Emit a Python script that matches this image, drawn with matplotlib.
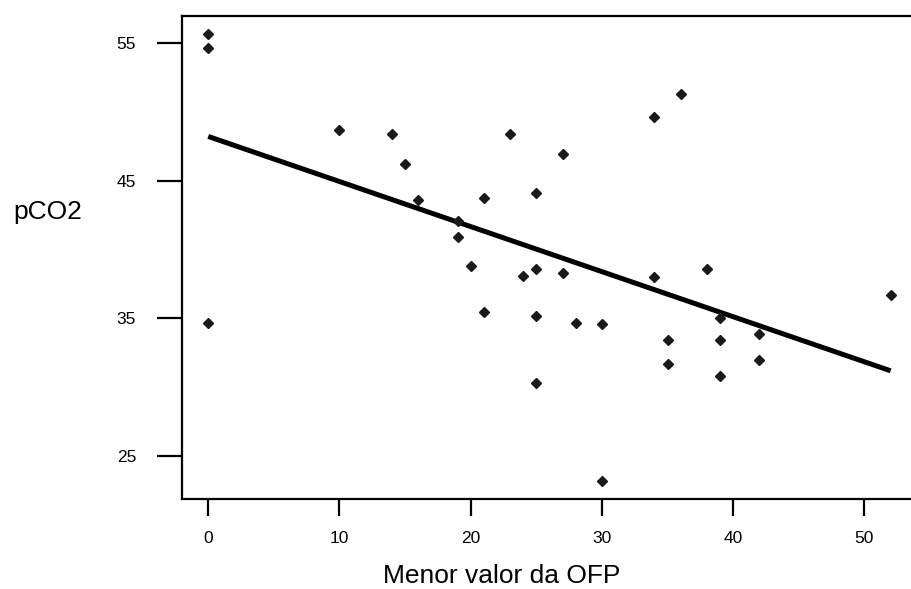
import numpy as np
import matplotlib
matplotlib.use("Agg")
import matplotlib.pyplot as plt

plt.rcParams['font.family'] = ['Liberation Sans', 'DejaVu Sans']

# menor valor da OFP (x) e pCO2 (y)
ofp = [0, 0, 0, 10, 14, 15, 16, 19, 19, 20, 21, 21, 23, 24,
       25, 25, 25, 25, 27, 27, 28, 30, 30, 34, 34, 35, 35, 36,
       38, 39, 39, 39, 42, 42, 52]
pco2 = [55.6, 54.6, 34.7, 48.7, 48.4, 46.2, 43.6, 42.1, 40.9, 38.8, 43.7, 35.5, 48.4, 38.1,
        44.1, 38.6, 35.2, 30.3, 46.9, 38.3, 34.7, 34.6, 23.2, 49.6, 38.0, 33.4, 31.7, 51.3,
        38.6, 35.0, 33.4, 30.8, 33.9, 32.0, 36.7]

# reta ajustada
fit_x = [0, 52]
fit_y = [48.2, 31.2]

xticks = [0, 10, 20, 30, 40, 50]
yticks = [25, 35, 45, 55]

fig = plt.figure(figsize=(9.11, 5.89), dpi=100)
ax = fig.add_axes([182/911, 1 - 499/589, 1 - 182/911, (499 - 15.7)/589])

ax.plot(fit_x, fit_y, color='black', lw=3.6, solid_capstyle='butt', zorder=2)
ax.plot(ofp, pco2, linestyle='none', marker='D', markersize=5.5, color='#1a1a1a', zorder=3)

ax.set_xlim(-2.0, 53.55)
ax.set_ylim(21.9, 56.96)
ax.set_xticks(xticks)
ax.set_yticks(yticks)

ax.spines['right'].set_visible(False)
for s in ['left', 'top', 'bottom']:
    ax.spines[s].set_linewidth(1.6)
ax.tick_params(axis='x', direction='out', length=12, width=1.6, pad=11, labelsize=12.5)
ax.tick_params(axis='y', direction='out', length=18, width=1.6, pad=15, labelsize=12.5)

fig.text(383/911, 1 - 583/589, "Menor valor da OFP", fontsize=19, ha='left', va='baseline')
fig.text(13/911, 1 - 219/589, "pCO2", fontsize=19, ha='left', va='baseline')

plt.savefig("out.png", dpi=100)
